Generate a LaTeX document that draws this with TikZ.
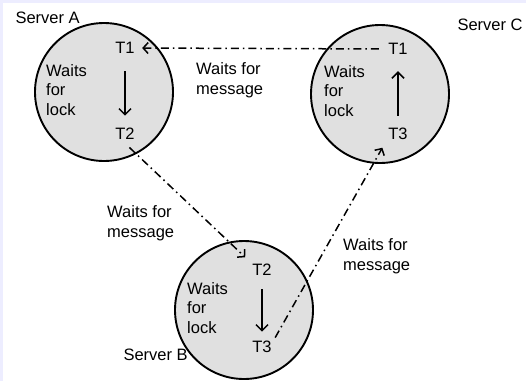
\documentclass[tikz,border=0pt]{standalone}
\usepackage{fontspec}
\setmainfont{Liberation Sans}
\usetikzlibrary{arrows.meta}

\begin{document}
\begin{tikzpicture}[x=1pt, y=-1pt, font=\fontsize{16.5}{19.5}\selectfont]

	\def\rad{69}

	% Sfondo e bordo
	\fill[blue!7] (0,0) rectangle (526,381);
	\fill[white] (3,3) rectangle (526,381);
	\useasboundingbox (0,0) rectangle (526,381);

	\tikzset{server/.style={circle, draw, line width=1.9pt, fill=black!12, minimum size=2*\rad, inner sep=0}}
	\tikzset{lbl/.style={align=left, anchor=west, inner sep=0}}
	\tikzset{lockarrow/.style={line width=1.5pt, -{Straight Barb[length=6pt, width=12pt, line width=1.5pt]}}}
	\tikzset{msg/.style={line width=1.5pt, dash pattern=on 8pt off 4pt on 1.5pt off 4pt, -{Straight Barb[length=5pt, width=11pt, line width=1.5pt]}}}

	% --- SERVER ---
	\node[server] (srvA) at (104,92) {};
	\node[server] (srvC) at (380,94) {};
	\node[server] (srvB) at (244,310) {};

	\node[anchor=west] (nameA) at (12,18) {Server A};
	\node[anchor=west] (nameC) at (454,25) {Server C};
	\node[anchor=west] (nameB) at (120,355) {Server B};

	% --- TRANSAZIONI ---
	\node (t1a) at (125,48) {T1};
	\node (t2a) at (125,134) {T2};
	\node (t1c) at (398,49) {T1};
	\node (t3c) at (398,134) {T3};
	\node (t2b) at (262,270) {T2};
	\node (t3b) at (262,347) {T3};

	% --- ATTESE LOCALI ---
	\node[lbl] (lockA) at (46,90) {Waits\\for\\lock};
	\node[lbl] (lockC) at (324,91) {Waits\\for\\lock};
	\node[lbl] (lockB) at (187,308) {Waits\\for\\lock};

	\draw[lockarrow] ([yshift=-14pt]t1a.south) -- ([yshift=9pt]t2a.north);
	\draw[lockarrow] ([yshift=9pt]t3c.north) -- ([yshift=-13pt]t1c.south);
	\draw[lockarrow] ([yshift=-10pt]t2b.south) -- ([yshift=6pt]t3b.north);

	% --- MESSAGGI TRA SERVER ---
	\draw[msg, shorten <=6pt, shorten >=4pt] (t1c.west) -- (t1a.east);
	\draw[msg, shorten <=6pt, shorten >=5pt] (t2a.south) -- (t2b.north west);
	\draw[msg, shorten <=0pt, shorten >=5pt] (t3b.north east) -- (t3c.south west);

	\node[lbl] (msgAC) at (196,80) {Waits for\\message};
	\node[lbl] (msgAB) at (107,223) {Waits for\\message};
	\node[lbl] (msgBC) at (343,256) {Waits for\\message};

\end{tikzpicture}
\end{document}
